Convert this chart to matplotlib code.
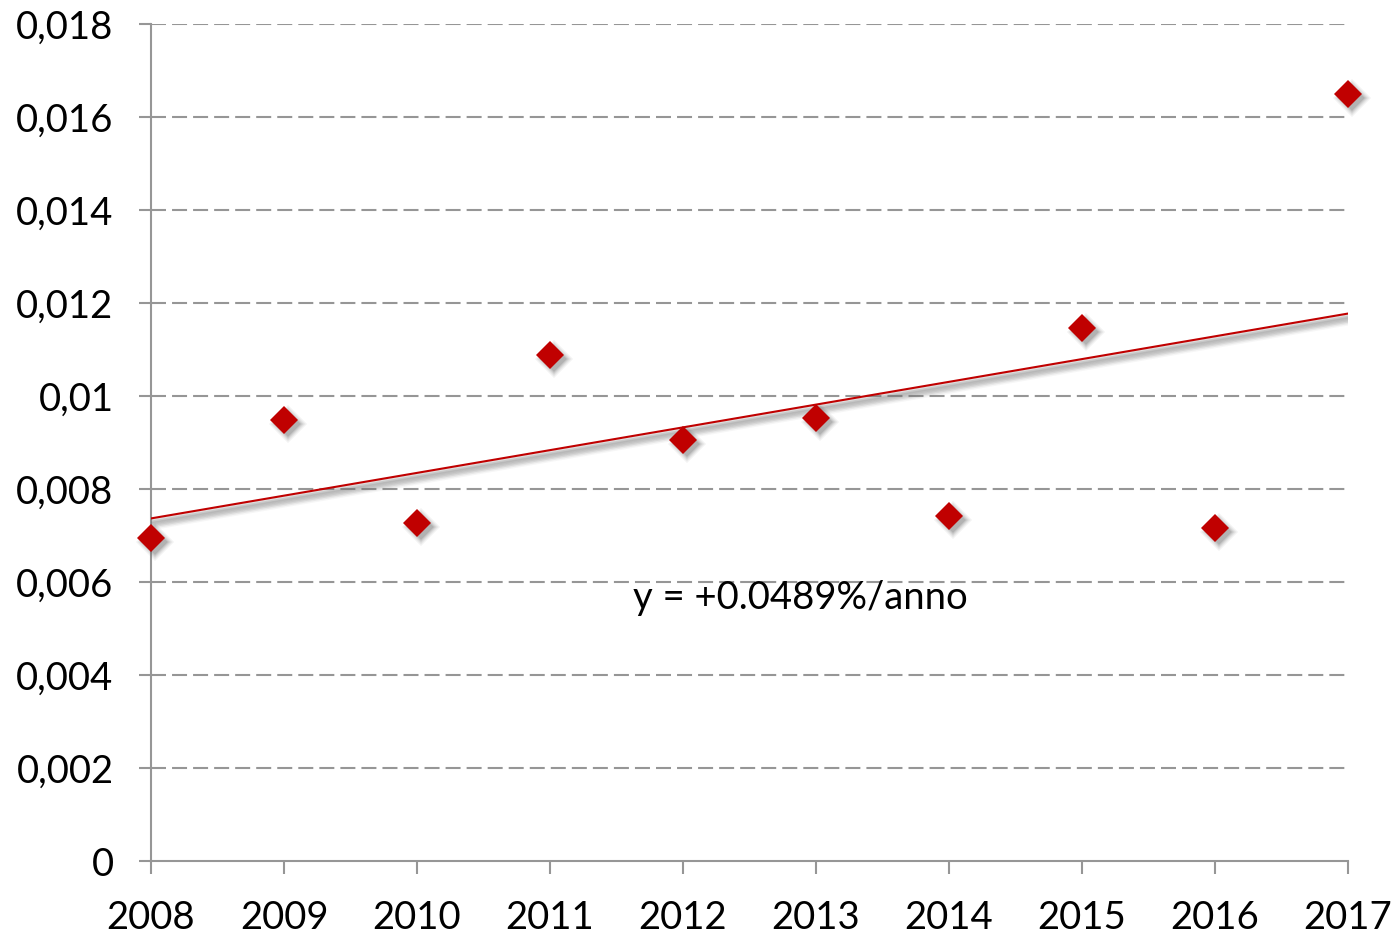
import numpy as np
import matplotlib
matplotlib.use("Agg")
import matplotlib.pyplot as plt
import matplotlib.patheffects as pe
from matplotlib.transforms import ScaledTranslation

years = [2008, 2009, 2010, 2011, 2012, 2013, 2014, 2015, 2016, 2017]
values = [0.00695, 0.00948, 0.00727, 0.01088, 0.00905,
          0.00953, 0.00742, 0.01146, 0.00716, 0.01650]
yticks = [0, 0.002, 0.004, 0.006, 0.008, 0.010, 0.012, 0.014, 0.016, 0.018]
ytick_labels = ["0", "0,002", "0,004", "0,006", "0,008", "0,01",
                "0,012", "0,014", "0,016", "0,018"]
trend_label = "y = +0.0489%/anno"

plt.rcParams['font.family'] = ['Lato', 'DejaVu Sans']

fig = plt.figure(figsize=(13.96, 9.36), dpi=100)
ax = fig.add_axes([0.1082, 0.0801, 0.8574, 0.8943])

grey = '#969696'
red = '#c00000'

# grid
for t in yticks[1:]:
    ax.axhline(t, color=grey, lw=1.5, dashes=(7.2, 2.9), zorder=1)

# linear trend with soft shadow
x = np.array(years, dtype=float)
slope, icpt = np.polyfit(x, values, 1)
xt = np.array([years[0], years[-1]], dtype=float)
shadow = [pe.SimpleLineShadow(offset=(0.5, -k), shadow_color='#707070', alpha=a, linewidth=3)
          for k, a in [(7, 0.06), (6, 0.1), (5, 0.14), (4, 0.18), (3, 0.2), (2, 0.22)]]
ax.plot(xt, slope * xt + icpt, color=red, lw=1.5, zorder=3,
        path_effects=shadow + [pe.Normal()])

# marker shadow (soft, offset down-right)
off = ax.transData + ScaledTranslation(3 / 72, -3 / 72, fig.dpi_scale_trans)
for ms, a in [(19, 0.07), (17, 0.1), (15, 0.15), (13, 0.2)]:
    ax.plot(years, values, linestyle='none', marker='D', markersize=ms,
            color='#505050', alpha=a, markeredgewidth=0, zorder=4,
            transform=off, clip_on=False)
ax.plot(years, values, linestyle='none', marker='D', markersize=14,
        color=red, markeredgewidth=0, zorder=5, clip_on=False)

ax.text(2012.88, 0.00566, trend_label, fontsize=27.5, ha='center', va='center', zorder=6)

ax.set_xlim(2008, 2017)
ax.set_ylim(0, 0.018)
ax.set_xticks(years)
ax.set_xticklabels([str(y) for y in years])
ax.set_yticks(yticks)
ax.set_yticklabels(ytick_labels)

for s in ['top', 'right']:
    ax.spines[s].set_visible(False)
for s in ['left', 'bottom']:
    ax.spines[s].set_color(grey)
    ax.spines[s].set_linewidth(1.5)
ax.tick_params(axis='both', colors=grey, labelcolor='black', labelsize=27.5,
               length=9, width=1.5, direction='out')
ax.tick_params(axis='y', pad=18)
ax.tick_params(axis='x', pad=19)

fig.savefig('out.png', dpi=100)
